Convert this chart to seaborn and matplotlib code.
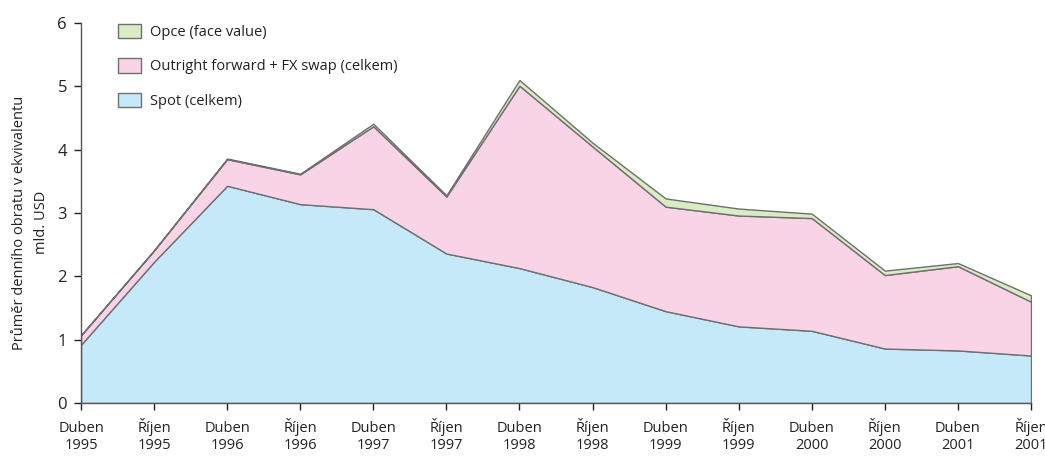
import matplotlib
matplotlib.use("Agg")
import matplotlib.pyplot as plt
import seaborn as sns
import numpy as np

months = ["Duben", "Říjen"] * 7
years = ["1995", "1995", "1996", "1996", "1997", "1997", "1998", "1998",
         "1999", "1999", "2000", "2000", "2001", "2001"]

spot = [0.92, 2.23, 3.43, 3.14, 3.06, 2.36, 2.13, 1.83, 1.45, 1.21, 1.14, 0.86, 0.83, 0.75]
forward_swap = [0.15, 0.18, 0.42, 0.47, 1.31, 0.90, 2.88, 2.22, 1.65, 1.75, 1.78, 1.16, 1.33, 0.85]
opce = [0.00, 0.00, 0.01, 0.01, 0.04, 0.02, 0.09, 0.06, 0.13, 0.11, 0.07, 0.07, 0.05, 0.10]

series_names = ["Spot (celkem)", "Outright forward + FX swap (celkem)", "Opce (face value)"]
colors = ["#c6e9fa", "#f9d4e6", "#d9ecc3"]

sns.set_style("ticks")
plt.rcParams["font.family"] = ["Open Sans", "DejaVu Sans"]

fig = plt.figure(figsize=(10.45, 4.61), dpi=100)
ax = fig.add_axes([81 / 1045, 1 - 403 / 461, (1031 - 81) / 1045, (403 - 23) / 461])

x = np.arange(len(spot))
ax.stackplot(x, spot, forward_swap, opce, labels=series_names, colors=colors,
             edgecolor="#6f6f6f", linewidth=1.0)

ax.set_xlim(0, len(spot) - 1)
ax.set_ylim(0, 6)

# month row on the main axis, year row on a second bottom axis; both baseline-aligned
ax.set_xticks(x)
ax.set_xticklabels(months, fontsize=10.5, color="#222222", va="baseline")
ax.tick_params(axis="x", length=5, width=1, pad=15.8, colors="#222222")

year_axis = ax.secondary_xaxis("bottom")
year_axis.set_xticks(x)
year_axis.set_xticklabels(years, fontsize=10.5, color="#222222", va="baseline")
year_axis.tick_params(axis="x", length=0, pad=33.0, colors="#222222")
year_axis.spines["bottom"].set_visible(False)

ax.set_yticks(range(0, 7))
ax.tick_params(axis="y", labelsize=12, colors="#222222", length=5, width=1, pad=5)
for s in ("top", "right"):
    ax.spines[s].set_visible(False)
for s in ("left", "bottom"):
    ax.spines[s].set_color("#555555")
    ax.spines[s].set_linewidth(1.0)

ax.set_ylabel("Průměr denního obratu v ekvivalentu\nmld. USD", fontsize=10.5,
              color="#222222", linespacing=1.65, labelpad=6)
ax.yaxis.label.set_y(0.475)

handles, labels = ax.get_legend_handles_labels()
leg = ax.legend(handles[::-1], labels[::-1], loc="upper left",
                bbox_to_anchor=(112 / 1045, 1 - 18 / 461), bbox_transform=fig.transFigure,
                frameon=False, fontsize=10.5, labelspacing=1.25, handlelength=1.6,
                handleheight=1.15, handletextpad=0.6, borderaxespad=0)
for t in leg.get_texts():
    t.set_color("#222222")

fig.savefig("out.png", dpi=100)
